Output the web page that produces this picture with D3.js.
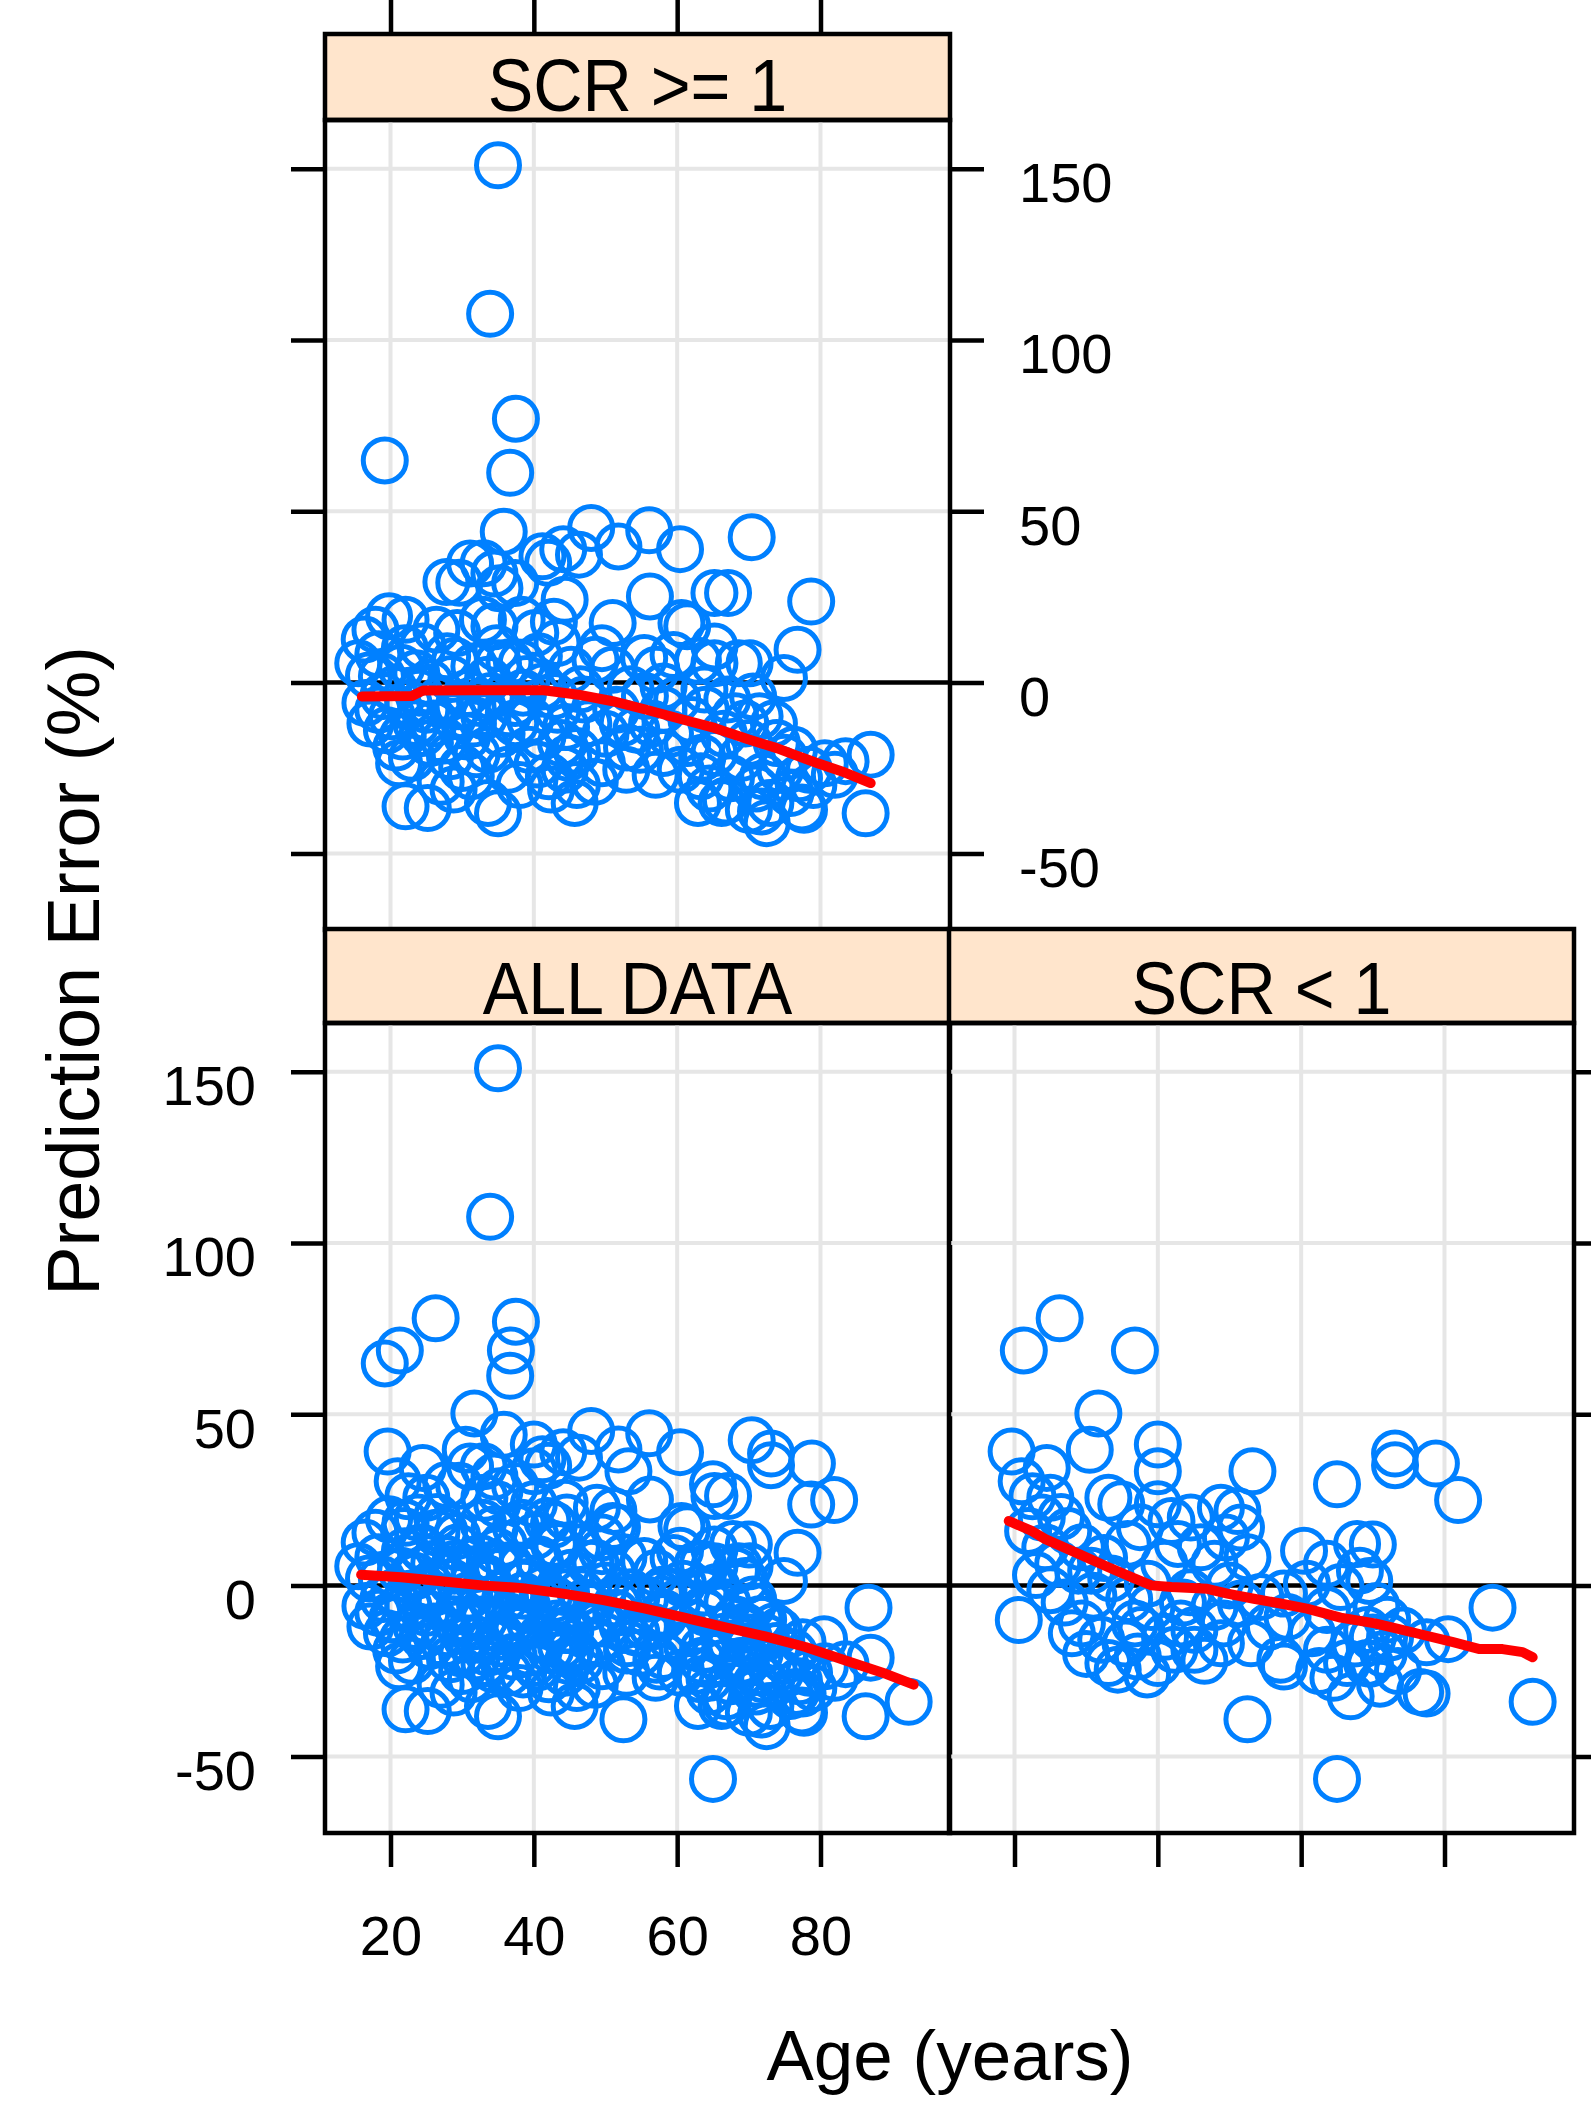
<!DOCTYPE html>
<html>
<head>
<meta charset="utf-8">
<script src="https://cdn.jsdelivr.net/npm/d3@7"></script>
<style>
  body { margin: 0; background: #fff; }
  text { font-family: "Liberation Sans", Arial, Helvetica, sans-serif; }
</style>
</head>
<body>
<div id="chart"></div>
<script>
// ---- data: [age, prediction error %] ----
var scrHigh = [
  [35.0,151],[33.9,107.6],[37.5,77],[19.2,64.8],[36.7,61.2],[35.8,44],[48.0,45.1],[56.1,44.4],[70.4,42.4],
  [51.8,39.7],[60.4,38.9],[44.1,38.9],[46.3,37.3],[42.0,34.9],[41.2,36.8],[31.1,34.7],[33.0,34.8],[34.5,31.8],
  [27.8,29.3],[29.6,29.1],[37.4,29.0],[35.2,27.5],[56.2,25.1],[65.2,26.1],[67.1,26.1],[44.3,24.1],[51.0,17.3],
  [61.4,16.4],[65.2,10.5],[43.3,11.5],[48.6,6.6],[57.1,3.7],[65.2,5.6],[68.6,5.6],[45.2,3.7],[51.0,3.7],
  [58.1,-1.2],[63.8,-2.1],[78.7,23.6],[76.8,9.5],[74.9,1.3],[70.1,5.6],[42.8,17.7],[19.8,19.3],[22.1,18.3],
  [17.9,15.4],[26.4,15.4],[32.9,18.3],[34.5,16.4],[38.3,18.3],[16.4,12.5],[29.3,14.4],[40.2,14.4],[24.5,10.5],
  [15.5,5.6],[18.8,1.8],[23.6,2.7],[27.9,7.6],[31.7,4.7],[35.0,5.6],[38.3,5.6],[40.7,7.6],[33.6,0.8],[41.2,-1.2],
  [18.3,8.2],[21.5,4.3],[29.0,6.3],[36.6,5.9],[55.4,7.1],[60.6,17.3],[62.9,6.3],
  [20.2,-9.9],[23.6,-11.9],[28.8,-9.9],[33.1,-9.9],[37.4,-11.9],[41.2,-15.8],[21.2,-23.6],[25.5,-17.7],
  [33.6,-19.7],[36.4,-25.5],[42.1,-27.4],[22.1,-36.2],[25.2,-36.7],[28.8,-31.3],[33.6,-35.2],[35.0,-38.2],
  [21.7,-15.8],[24.5,-14.8],[30.7,-15.8],[26.9,-5.1],[30.7,-3.1],[37.4,-6.0],[18.3,-8.0],[39.3,-19.7],
  [31.2,-27.4],[25.0,-8.0],[28.3,-21.6],[43.3,-8.0],[47.6,-11.9],[54.3,-13.8],[61.4,-17.7],[65.2,-20.6],
  [44.3,-25.5],[49.5,-23.6],[52.9,-25.5],[42.4,-31.3],[45.7,-35.2],[63.3,-27.4],[62.9,-35.2],[66.2,-35.2],
  [70.0,-37.2],[60.5,-25.5],[70.0,-17.7],[68.1,-9.9],[58.1,-8.0],[52.4,-11.9],[54.8,-19.7],[58.1,-20.6],
  [43.8,-17.7],[70.6,-4.1],[71.5,-9.9],[73.9,-17.7],[76.3,-19.7],[80.6,-23.6],[78.4,-25.5],[72.0,-27.4],
  [73.0,-35.2],[75.8,-32.3],[72.5,-41.1],[87.0,-21.1],[86.3,-38.2],[77.7,-37.2],[74.4,-25.5],
  [16.5,-6],[17.2,-12],[19.0,-4],[19.5,-14],[20.8,-19],[22.5,-6],[23.0,-22],[24.0,-3],[26.0,-12],[27.5,-17],
  [29.5,-7],[31.5,-12],[32.0,-21],[34.0,-4],[35.5,-15],[36.5,-9],[38.5,-3],[39.5,-11],[40.5,-24],[42.8,-4],
  [44.5,-13],[46.0,-20],[47.0,-5],[48.5,-29],[50.0,-15],[51.5,-8],[53.0,-19],[55.5,-4],[56.5,-12],[59.0,-15],
  [60.0,-5],[62.0,-11],[63.5,-22],[64.5,-31],[66.5,-15],[67.5,-28],[69.0,-22],[71.0,-31],[73.5,-12],[75.0,-22],
  [77.0,-28],[79.0,-30],[82.0,-27],[83.5,-23],[71.7,-37.7],[77.4,-36.5],[66.8,-34.5],[46.0,-30],[44.8,-22],
  [38.0,-30],[30.0,-25],[27.0,-29],
  [17.0,2],[20.5,-2],[22.0,10],[25.5,0],[28.5,1],[32.5,-6],[34.8,10],[39.0,1],[46.5,-2],[49.5,10],[53.5,-2],
  [57.0,-27],[59.5,8],[64.0,-8],[67.0,-5],[69.5,-12]
];

var scrLow = [
  [21.3,68.6],[26.3,78],[36.8,68.6],[31.7,50.2],[30.5,39.6],[19.6,39.1],[21.0,30.4],[24.5,34.3],[40.0,41.1],
  [40.0,33.3],[25.0,25.6],[23.8,19.8],[21.9,15.9],[24.3,11.1],[27.5,15.9],[29.4,11.1],[33.1,25.6],[34.9,23.7],
  [40.0,23.7],[41.9,18.8],[30.7,4.3],[35.8,12.1],[25.0,-1.4],[20.6,-10.1],[29.4,-11.1],[32.1,-15.9],[33.1,-22.7],
  [34.4,-24.6],[37.2,-20.8],[40.0,-22.7],[42.3,-18.8],[36.8,-11.1],[39.1,-6.3],[26.1,6.3],[28.9,4.3],[40.9,6.3],
  [38.6,0.5],[42.8,12.1],[43.2,-11.1],[37.7,-13.0],
  [27.0,-5],[31.0,-3],[33.5,2],[36.0,-4],[30.0,-20],[35.5,-17],[41.0,-15],[43.5,-5],[28.0,-14],[38.5,-26],
  [23.0,3],[32.5,8],[26.5,20],[37.5,17],[22.5,26],
  [53.2,33.3],[65.0,29.5],[48.8,22.7],[51.1,21.7],[51.6,16.9],[44.6,19.8],[52.5,8.2],[47.9,6.3],[46.0,11.1],
  [60.4,10.1],[63.6,6.3],[67.8,12.1],[68.2,4.3],[57.6,-2.4],[58.1,-9.2],[51.6,-5.3],[47.9,-6.3],[45.1,-13.0],
  [48.8,-16.9],[45.1,-18.8],[53.0,-16.9],[57.1,-21.7],[57.6,-23.7],[52.5,-39.1],[65.0,-56.5],[63.6,-18.8],
  [66.4,-22.7],[66.9,-32.4],[69.2,-22.7],[63.6,-7.2],[65.5,-0.5],[60.8,0.5],[69.2,-13.0],[49.2,-11.1],[54.3,-3.4],
  [44.5,-2],[50.0,0],[46.5,-22],[55.5,-12],[61.5,-14],[67.5,-17],[64.5,-27],[62.5,-25],[49.5,14],
  [73.1,38.5],[73.1,35.1],[78.8,35.6],[81.9,24.9],[70.0,11.9],[69.5,1.3],[86.7,-6.5],[92.3,-34.0],[80.5,-15.7],
  [77.5,-16.6],[72.4,-15.2],[76.6,-31.1],[77.5,-31.6],[71.0,-28.7],[70.0,-15.2],[74.2,-13.2],[69.6,-22.9],
  [71.5,-20],[73.5,-25],[70.5,-6],[72.0,-10]
];

// smoother lines as drawn in the picture
var smoothHigh = [[16.0,-4.1],[23.0,-4.0],[24.5,-2.4],[31.7,-2.3],[41.4,-2.3],[46.2,-3.6],[51.0,-5.5],[55.7,-8.0],
  [60.5,-10.7],[65.2,-13.3],[70.0,-16.7],[73.9,-19.2],[76.3,-21.1],[79.6,-23.6],[83.0,-26.0],[87.0,-29.4]];
var smoothAll = [[15.9,3.1],[21.5,2.4],[27.1,1.2],[32.8,0],[38.4,-0.8],[44.1,-2.4],[49.7,-4.3],[55.4,-6.7],
  [61.0,-9.4],[66.6,-12.2],[72.3,-14.9],[77.9,-18.0],[83.6,-22.0],[89.2,-25.9],[93.0,-29.0]];
var smoothLow = [[19.2,18.8],[22.4,15.9],[24.3,13.5],[28.4,9.7],[33.1,5.3],[36.3,2.4],[39.1,0],[41.9,-0.5],
  [46.9,-1.0],[49.7,-2.4],[53.4,-3.9],[57.1,-5.3],[60.8,-6.8],[65.5,-9.4],[70.3,-11.1],[72.8,-12.3],
  [76.5,-14.2],[81.2,-16.6],[84.9,-18.6],[88.1,-18.6],[90.9,-19.5],[92.3,-21.0]];

var xTicks = [20, 40, 60, 80];
var yTicks = [-50, 0, 50, 100, 150];
var yGrid = [-50, 50, 100, 150];
var stripLabels = ["SCR >= 1", "ALL DATA", "SCR < 1"];

// ---- layout ----
var width = 1591, height = 2105;
var panelW = 625, panelH = 810;
var tick = 34;
var lw = 4.5;

var svg = d3.select("#chart").append("svg")
  .attr("width", width)
  .attr("height", height);

var xDomain = [10.86, 98.07];
var yDomain = [-72.3, 164.2];

var panels = [
  { label: stripLabels[0], pts: scrHigh, smooth: smoothHigh, x0: 325, y0: 120, stripH: 86 },
  { label: stripLabels[1], pts: scrHigh.concat(scrLow), smooth: smoothAll, x0: 325, y0: 1023, stripH: 94 },
  { label: stripLabels[2], pts: scrLow, smooth: smoothLow, x0: 949, y0: 1023, stripH: 94 }
];

panels.forEach(function (p) {
  var x = d3.scaleLinear().domain(xDomain).range([p.x0, p.x0 + panelW]);
  var y = d3.scaleLinear().domain(yDomain).range([p.y0 + panelH, p.y0]);
  p.x = x; p.y = y;

  var g = svg.append("g");

  // strip
  g.append("rect")
    .attr("x", p.x0).attr("y", p.y0 - p.stripH)
    .attr("width", panelW).attr("height", p.stripH)
    .attr("fill", "#ffe5cc").attr("stroke", "#000").attr("stroke-width", lw);
  g.append("text")
    .attr("transform", "translate(" + (p.x0 + panelW / 2) + "," + (p.y0 - 9) + ") scale(0.91,1)")
    .attr("text-anchor", "middle")
    .attr("font-size", 75)
    .text(p.label);

  // grid
  g.selectAll(".gx").data(xTicks).enter().append("line")
    .attr("x1", d => x(d)).attr("x2", d => x(d))
    .attr("y1", p.y0).attr("y2", p.y0 + panelH)
    .attr("stroke", "#e6e6e6").attr("stroke-width", 4);
  g.selectAll(".gy").data(yGrid).enter().append("line")
    .attr("x1", p.x0).attr("x2", p.x0 + panelW)
    .attr("y1", d => y(d)).attr("y2", d => y(d))
    .attr("stroke", "#e6e6e6").attr("stroke-width", 4);

  // zero reference line
  g.append("line")
    .attr("x1", p.x0).attr("x2", p.x0 + panelW)
    .attr("y1", y(0)).attr("y2", y(0))
    .attr("stroke", "#000").attr("stroke-width", lw);

  // points
  g.selectAll("circle").data(p.pts).enter().append("circle")
    .attr("cx", d => x(d[0]))
    .attr("cy", d => y(d[1]))
    .attr("r", 21.5)
    .attr("fill", "none")
    .attr("stroke", "#0080ff")
    .attr("stroke-width", 5);

  // smoother
  var line = d3.line().x(d => x(d[0])).y(d => y(d[1]));
  g.append("path")
    .datum(p.smooth)
    .attr("d", line)
    .attr("fill", "none")
    .attr("stroke", "#ff0000")
    .attr("stroke-width", 10)
    .attr("stroke-linecap", "round")
    .attr("stroke-linejoin", "round");

  // border
  g.append("rect")
    .attr("x", p.x0).attr("y", p.y0)
    .attr("width", panelW).attr("height", panelH)
    .attr("fill", "none").attr("stroke", "#000").attr("stroke-width", lw);
});

// ---- axes ----
function styleAxis(sel, withLabels) {
  sel.select(".domain").remove();
  sel.attr("font-size", 56)
    .attr("font-family", "Liberation Sans, Arial, Helvetica, sans-serif");
  sel.selectAll(".tick line").attr("stroke-width", lw);
  if (!withLabels) sel.selectAll(".tick text").remove();
}
var fmt = d => String(d);

var pTop = panels[0], pAll = panels[1], pLow = panels[2];

// top panel: top ticks (no labels)
svg.append("g")
  .attr("transform", "translate(0," + (pTop.y0 - pTop.stripH) + ")")
  .call(d3.axisTop(pTop.x).tickValues(xTicks).tickSize(tick))
  .call(styleAxis, false);

// top panel: left ticks (no labels), right ticks with labels
svg.append("g")
  .attr("transform", "translate(" + pTop.x0 + ",0)")
  .call(d3.axisLeft(pTop.y).tickValues(yTicks).tickSize(tick))
  .call(styleAxis, false);

var rightAx = svg.append("g")
  .attr("transform", "translate(" + (pTop.x0 + panelW) + ",0)")
  .call(d3.axisRight(pTop.y).tickValues(yTicks).tickFormat(fmt).tickSize(tick).tickPadding(35))
  .call(styleAxis, true);
rightAx.selectAll(".tick text").attr("dy", 33);

// ALL DATA: left ticks with labels, bottom ticks with labels
var leftAx = svg.append("g")
  .attr("transform", "translate(" + pAll.x0 + ",0)")
  .call(d3.axisLeft(pAll.y).tickValues(yTicks).tickFormat(fmt).tickSize(tick).tickPadding(35))
  .call(styleAxis, true);
leftAx.selectAll(".tick text").attr("dy", 33);

svg.append("g")
  .attr("transform", "translate(0," + (pAll.y0 + panelH) + ")")
  .call(d3.axisBottom(pAll.x).tickValues(xTicks).tickFormat(fmt).tickSize(tick).tickPadding(48))
  .call(styleAxis, true);

// SCR < 1: bottom and right ticks, no labels
svg.append("g")
  .attr("transform", "translate(0," + (pLow.y0 + panelH) + ")")
  .call(d3.axisBottom(pLow.x).tickValues(xTicks).tickSize(tick))
  .call(styleAxis, false);

svg.append("g")
  .attr("transform", "translate(" + (pLow.x0 + panelW) + ",0)")
  .call(d3.axisRight(pLow.y).tickValues(yTicks).tickSize(tick))
  .call(styleAxis, false);

// ---- axis titles ----
svg.append("text")
  .attr("x", 950).attr("y", 2080)
  .attr("text-anchor", "middle")
  .attr("font-size", 71)
  .text("Age (years)");

svg.append("text")
  .attr("transform", "translate(99,971) rotate(-90)")
  .attr("text-anchor", "middle")
  .attr("font-size", 74)
  .text("Prediction Error (%)");
</script>
</body>
</html>
